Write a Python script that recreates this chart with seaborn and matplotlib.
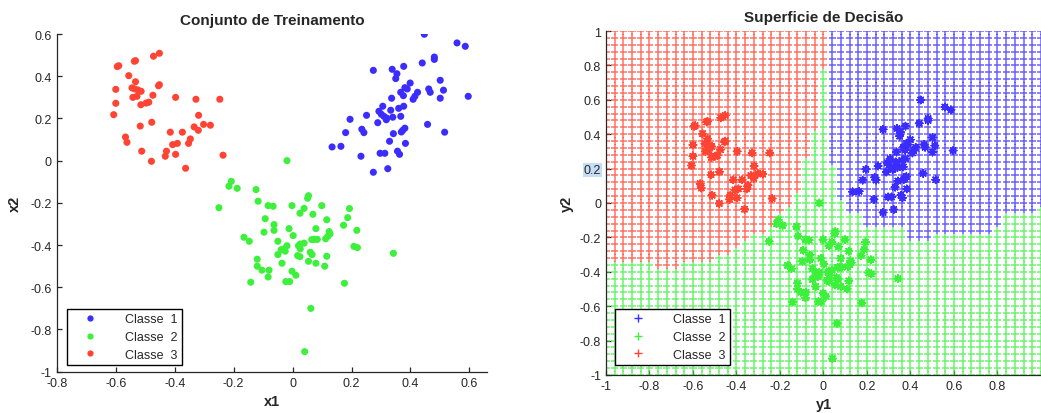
import numpy as np
import pandas as pd
import matplotlib
matplotlib.use("Agg")
import matplotlib.pyplot as plt
from matplotlib.lines import Line2D
from matplotlib.ticker import FuncFormatter, MultipleLocator
import seaborn as sns

# ---------------------------------------------------------------- data
class_names = ["Classe  1", "Classe  2", "Classe  3"]
class_colors = ["#3c2dff", "#3cf03c", "#ff4433"]

# Classe 1 (training samples)
c1_x = [0.447, 0.558, 0.586, 0.481, 0.481, 0.440, 0.377, 0.274, 0.338, 0.354,
        0.350, 0.501, 0.399, 0.381, 0.389, 0.367, 0.376, 0.424, 0.462, 0.467,
        0.512, 0.415, 0.409, 0.336, 0.501, 0.596, 0.306, 0.377, 0.360, 0.333,
        0.293, 0.301, 0.310, 0.319, 0.318, 0.340, 0.367, 0.251, 0.195, 0.289,
        0.458, 0.235, 0.242, 0.180, 0.381, 0.374, 0.369, 0.342, 0.516, 0.329,
        0.383, 0.134, 0.164, 0.232, 0.297, 0.313, 0.356, 0.363, 0.274, 0.323]
c1_y = [0.599, 0.558, 0.542, 0.491, 0.480, 0.463, 0.447, 0.428, 0.433, 0.412,
        0.389, 0.381, 0.368, 0.346, 0.340, 0.324, 0.308, 0.324, 0.340, 0.324,
        0.334, 0.305, 0.291, 0.296, 0.296, 0.305, 0.258, 0.258, 0.248, 0.239,
        0.234, 0.220, 0.210, 0.202, 0.194, 0.206, 0.210, 0.215, 0.196, 0.180,
        0.172, 0.149, 0.133, 0.133, 0.154, 0.144, 0.136, 0.128, 0.135, 0.092,
        0.082, 0.065, 0.068, 0.021, 0.035, 0.035, 0.045, 0.030, -0.055, -0.038]

# Classe 2
c2_x = [-0.019, -0.208, -0.216, -0.188, -0.124, -0.250, -0.117, -0.083, -0.066, -0.002,
        0.054, 0.051, 0.039, 0.025, 0.099, 0.069, 0.193, 0.187, 0.116, 0.173,
        -0.093, -0.063, -0.012, -0.063, -0.097, 0.079, 0.218, 0.124, 0.127, 0.120,
        0.112, 0.002, -0.165, -0.147, -0.050, 0.065, 0.074, 0.084, 0.039, 0.026,
        0.020, -0.019, -0.028, -0.039, -0.025, 0.026, -0.050, 0.060, 0.066, 0.017,
        0.025, 0.116, 0.208, 0.220, 0.342, -0.120, 0.054, 0.079, -0.036, -0.120,
        -0.104, -0.080, -0.002, 0.011, 0.109, -0.083, -0.142, -0.023, -0.010, 0.176,
        0.062, 0.041]
c2_y = [0.000, -0.098, -0.121, -0.131, -0.137, -0.223, -0.192, -0.213, -0.216, -0.213,
        -0.166, -0.178, -0.226, -0.249, -0.213, -0.254, -0.227, -0.270, -0.280, -0.306,
        -0.275, -0.303, -0.322, -0.330, -0.339, -0.322, -0.330, -0.336, -0.347, -0.358,
        -0.370, -0.355, -0.363, -0.382, -0.382, -0.374, -0.373, -0.373, -0.391, -0.395,
        -0.403, -0.403, -0.418, -0.422, -0.429, -0.418, -0.445, -0.434, -0.445, -0.450,
        -0.455, -0.453, -0.406, -0.412, -0.439, -0.467, -0.477, -0.486, -0.486, -0.500,
        -0.519, -0.519, -0.524, -0.543, -0.500, -0.551, -0.576, -0.573, -0.573, -0.581,
        -0.700, -0.905]

# Classe 3
c3_x = [-0.452, -0.472, -0.533, -0.537, -0.590, -0.595, -0.556, -0.533, -0.452, -0.455,
        -0.600, -0.545, -0.536, -0.525, -0.514, -0.528, -0.542, -0.474, -0.600, -0.515,
        -0.497, -0.488, -0.607, -0.397, -0.328, -0.247, -0.319, -0.517, -0.478, -0.334,
        -0.320, -0.302, -0.279, -0.415, -0.374, -0.567, -0.562, -0.391, -0.407, -0.347,
        -0.353, -0.512, -0.428, -0.432, -0.397, -0.479, -0.236, -0.363]
c3_y = [0.509, 0.495, 0.474, 0.471, 0.450, 0.446, 0.403, 0.374, 0.360, 0.355,
        0.338, 0.345, 0.340, 0.335, 0.329, 0.305, 0.300, 0.310, 0.272, 0.265,
        0.273, 0.277, 0.218, 0.300, 0.291, 0.291, 0.215, 0.164, 0.182, 0.160,
        0.144, 0.172, 0.168, 0.135, 0.135, 0.112, 0.087, 0.082, 0.076, 0.103,
        0.082, 0.045, 0.045, 0.021, 0.030, -0.003, 0.026, -0.036]

# Decision surface: sampling step and the class frontiers per grid column
grid_step = 0.04
# Classe 3 occupies the points above this frontier (left half)
red_edge_x = [-1.00, -0.80, -0.76, -0.68, -0.64, -0.52, -0.48, -0.44, -0.40, -0.36,
              -0.32, -0.28, -0.24, -0.20, -0.16, -0.12, -0.08, -0.04, 0.00]
red_edge_y = [-0.34, -0.34, -0.38, -0.38, -0.34, -0.34, -0.30, -0.30, -0.26, -0.22,
              -0.18, -0.18, -0.14, -0.06, -0.02, 0.06, 0.26, 0.42, 0.78]
# Classe 1 occupies the points above this frontier (right half)
blue_edge_x = [0.04, 0.08, 0.12, 0.16, 0.20, 0.36, 0.40, 0.48, 0.52, 0.76,
               0.80, 0.84, 0.92, 0.96, 1.00]
blue_edge_y = [0.22, 0.02, -0.06, -0.06, -0.14, -0.14, -0.22, -0.22, -0.18, -0.18,
               -0.14, -0.06, -0.06, -0.06, -0.02]

# ---------------------------------------------------------------- tables
train = pd.concat([
    pd.DataFrame({"x": c1_x, "y": c1_y, "classe": class_names[0]}),
    pd.DataFrame({"x": c2_x, "y": c2_y, "classe": class_names[1]}),
    pd.DataFrame({"x": c3_x, "y": c3_y, "classe": class_names[2]}),
], ignore_index=True)

g = np.round(np.arange(-1.0, 1.0 + grid_step / 2, grid_step), 2)
gx, gy = np.meshgrid(g, g)
gx, gy = gx.ravel(), gy.ravel()
red_lim = np.interp(gx, red_edge_x, red_edge_y)
blue_lim = np.interp(gx, blue_edge_x, blue_edge_y)
label = np.full(gx.shape, class_names[1], dtype=object)
label[(gx <= 0.001) & (gy > red_lim)] = class_names[2]
label[(gx >= 0.039) & (gy > blue_lim)] = class_names[0]
surface = pd.DataFrame({"x": gx, "y": gy, "classe": label})

palette = dict(zip(class_names, class_colors))

# ---------------------------------------------------------------- style
sns.set_style("ticks")
plt.rcParams["font.family"] = ["Liberation Sans", "DejaVu Sans"]
plt.rcParams["xtick.direction"] = "in"
plt.rcParams["ytick.direction"] = "in"
plt.rcParams["xtick.major.size"] = 3.5
plt.rcParams["ytick.major.size"] = 3.5
plt.rcParams["axes.linewidth"] = 0.9

fig = plt.figure(figsize=(10.41, 4.14), dpi=100)
ax1 = fig.add_axes([0.0546, 0.0998, 0.4133, 0.8155])
ax2 = fig.add_axes([0.5821, 0.0918, 0.4179, 0.8309])

fmt = FuncFormatter(lambda v, p: f"{round(v, 2):g}")
fmt_right = FuncFormatter(lambda v, p: "" if v > 0.99 else f"{round(v, 2):g}")

# ---------------------------------------------------------------- left: training set
sns.scatterplot(data=train, x="x", y="y", hue="classe", palette=palette,
                s=26, linewidth=0, legend=False, ax=ax1)
ax1.set_xlim(-0.8, 0.66)
ax1.set_ylim(-1.0, 0.6)
ax1.xaxis.set_major_locator(MultipleLocator(0.2))
ax1.yaxis.set_major_locator(MultipleLocator(0.2))
ax1.xaxis.set_major_formatter(fmt)
ax1.yaxis.set_major_formatter(fmt)
ax1.set_title("Conjunto de Treinamento", fontsize=11, fontweight="bold", pad=7)
ax1.set_xlabel("x1", fontsize=10.5, fontweight="bold")
ax1.set_ylabel("x2", fontsize=10.5, fontweight="bold", labelpad=6)
sns.despine(ax=ax1)

h1 = [Line2D([], [], ls="none", marker="o", ms=4.5, mec="none", mfc=c) for c in class_colors]
leg1 = ax1.legend(h1, class_names, loc="lower left", bbox_to_anchor=(0.024, 0.02),
                  borderaxespad=0, fontsize=9, frameon=True, fancybox=False,
                  framealpha=1, edgecolor="black", labelspacing=0.45,
                  handlelength=2.9, handletextpad=1.4, borderpad=0.35)
leg1.get_frame().set_linewidth(1.0)

# ---------------------------------------------------------------- right: decision surface
sns.scatterplot(data=surface, x="x", y="y", hue="classe", palette=palette,
                marker="+", s=27, linewidth=1.1, alpha=0.75, legend=False, ax=ax2)
sns.scatterplot(data=train, x="x", y="y", hue="classe", palette=palette,
                marker=(8, 2, 0), s=26, linewidth=1.2, legend=False, ax=ax2)
ax2.set_xlim(-1.0, 1.0)
ax2.set_ylim(-1.0, 1.0)
ax2.xaxis.set_major_locator(MultipleLocator(0.2))
ax2.yaxis.set_major_locator(MultipleLocator(0.2))
ax2.xaxis.set_major_formatter(fmt_right)
ax2.yaxis.set_major_formatter(fmt)
ax2.set_title("Superficie de Decisão", fontsize=11, fontweight="bold", pad=7)
ax2.set_xlabel("y1", fontsize=10.5, fontweight="bold")
ax2.set_ylabel("y2", fontsize=10.5, fontweight="bold")
sns.despine(ax=ax2)

h2 = [Line2D([], [], ls="none", marker="+", ms=6, mew=1.0, color=c) for c in class_colors]
leg2 = ax2.legend(h2, class_names, loc="lower left", bbox_to_anchor=(0.021, 0.029),
                  borderaxespad=0, fontsize=9, frameon=True, fancybox=False,
                  framealpha=1, edgecolor="black", labelspacing=0.45,
                  handlelength=2.9, handletextpad=1.4, borderpad=0.35)
leg2.get_frame().set_linewidth(1.0)

for ax in (ax1, ax2):
    ax.tick_params(labelsize=9, width=0.9)

fig.canvas.draw()
for t in ax2.get_yticklabels():
    if t.get_text() == "0.2":
        t.set_bbox(dict(facecolor="#c6def5", edgecolor="none", pad=0.6))

fig.savefig("out.png", dpi=100)
